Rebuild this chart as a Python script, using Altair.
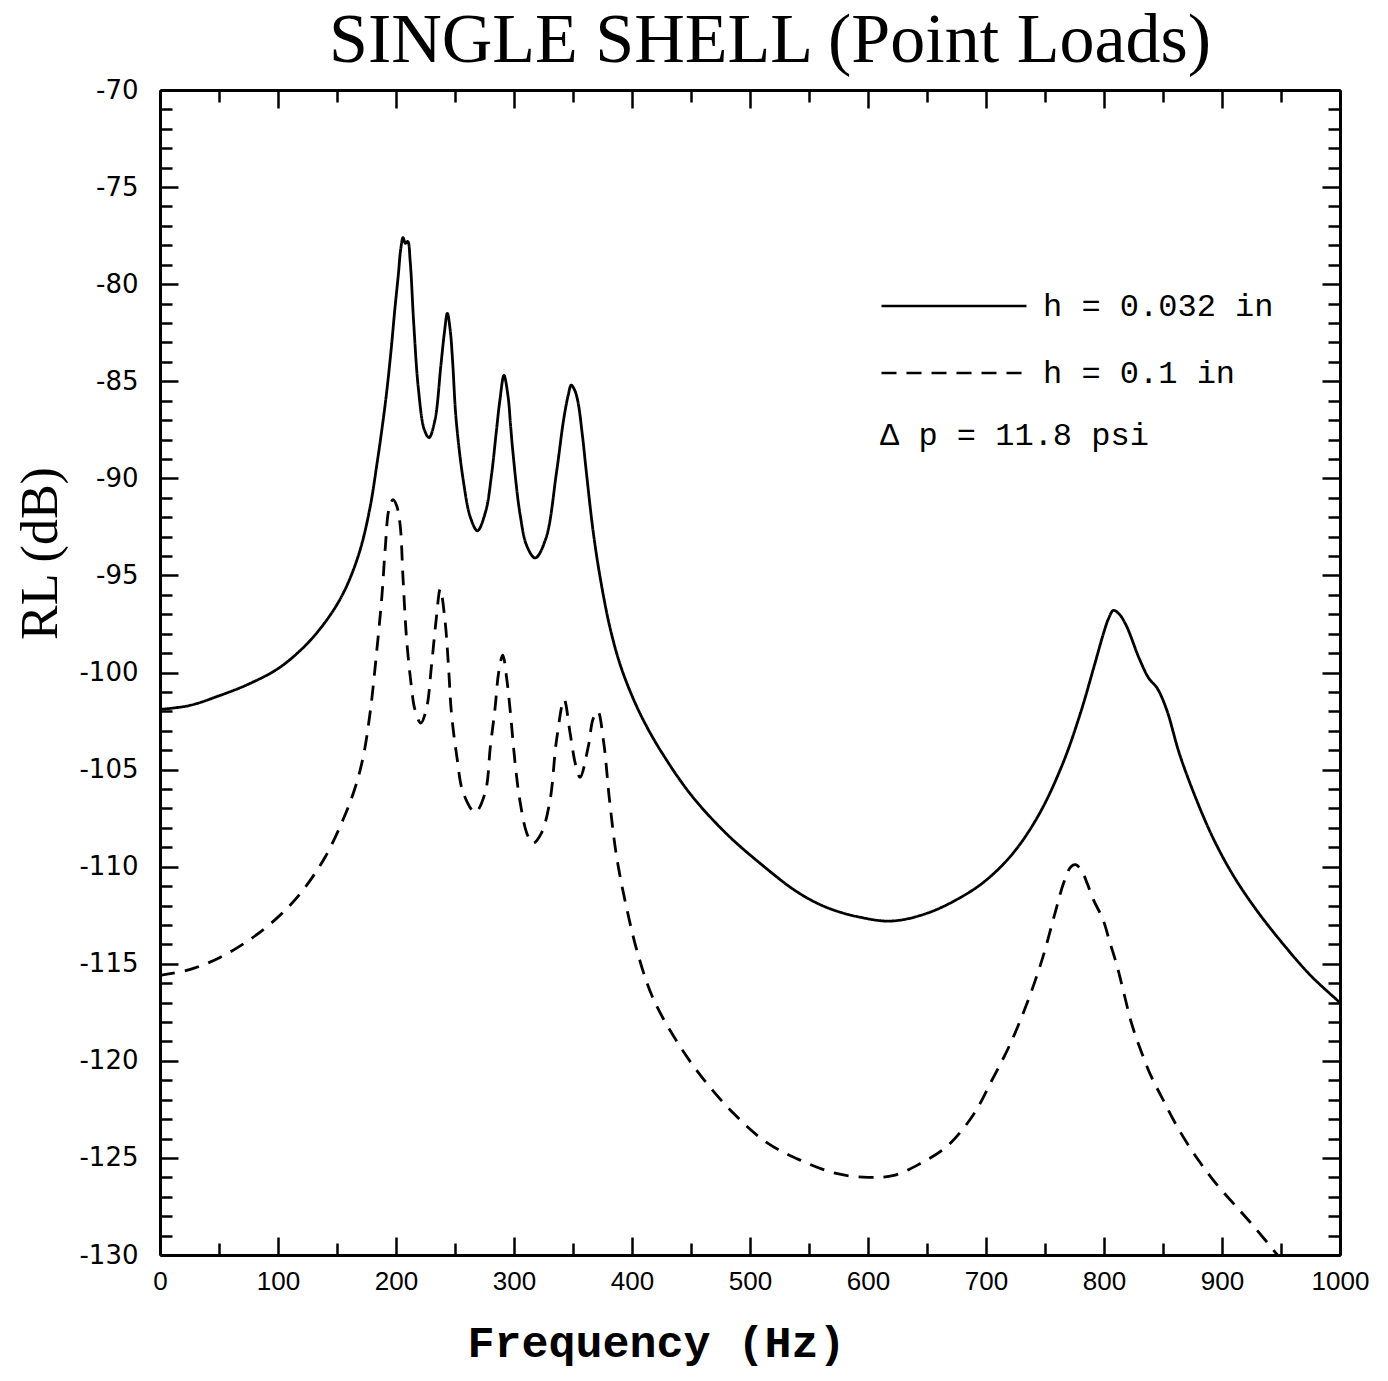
import altair as alt
import pandas as pd

# ---------------- data ----------------
solid_label = "h = 0.032 in"
dashed_label = "h = 0.1 in"

solid_freq = [0, 25, 50, 75, 100, 120, 135, 150, 160, 170, 178, 184, 188, 192, 196, 199,
              202, 204, 206, 208, 210, 212, 215, 219, 224, 228, 233, 238, 241, 243.5, 246,
              248, 251, 257, 263, 269, 276, 281, 285, 288, 291.5, 295, 297, 299, 305, 311,
              318, 327, 336, 342, 346, 348.5, 351, 354, 358, 361, 367, 373, 381, 390, 400,
              410, 425, 450, 480, 510, 540, 565, 593, 620, 650, 678, 700, 723, 745, 765, 780,
              792, 800, 804, 808, 813, 819, 830, 838, 845, 853, 864, 878, 893, 910, 930, 952,
              975, 1000]
solid_rl = [-101.9, -101.7, -101.2, -100.6, -99.8, -98.8, -97.8, -96.5, -95.3, -93.6, -91.5,
            -89.2, -87.5, -85.6, -83.3, -81.3, -79.5, -78.2, -77.6, -77.9, -77.8, -78.8, -82.0,
            -85.4, -87.5, -87.9, -87.0, -84.2, -82.5, -81.5, -82.4, -84.0, -87.0, -90.1, -92.0,
            -92.7, -91.7, -89.8, -87.6, -86.0, -84.7, -85.8, -87.2, -88.6, -91.8, -93.5, -94.1,
            -93.1, -89.7, -87.0, -85.7, -85.2, -85.4, -86.0, -87.8, -89.5, -92.7, -95.1, -97.6,
            -99.6, -101.2, -102.5, -104.1, -106.3, -108.3, -109.9, -111.3, -112.1, -112.6,
            -112.8, -112.4, -111.6, -110.7, -109.3, -107.3, -104.7, -102.1, -99.6, -97.9,
            -97.2, -96.8, -97.0, -97.6, -99.3, -100.3, -100.8, -101.9, -104.2, -106.5, -108.6,
            -110.5, -112.3, -114.0, -115.6, -117.0]

dashed_freq = [0, 25, 50, 75, 100, 120, 140, 155, 165, 172, 178, 184, 188, 191, 194, 197.5,
               200.5, 203.5, 206, 209, 213, 216, 221, 226, 230, 234, 237.5, 241.5, 244.5, 247,
               251.5, 257, 267, 275.5, 280, 284, 287, 290.5, 294, 297, 301, 305, 311, 316, 323,
               330.5, 336, 342.5, 347.5, 352, 356, 363, 367, 371, 376, 381, 387, 395, 405, 418,
               438, 460, 486, 514, 542, 573, 600, 622, 644, 667, 689, 705, 720, 735, 748, 758,
               766, 772, 776, 781, 786, 791, 799, 805, 811, 816, 823.5, 832, 840, 850, 864, 881,
               896, 912, 928, 947]
dashed_rl = [-115.6, -115.3, -114.7, -113.8, -112.6, -111.3, -109.5, -107.6, -106.0, -104.4,
             -102.1, -98.7, -96.1, -93.5, -91.6, -91.1, -91.4, -92.4, -95.2, -98.3, -100.7,
             -101.9, -102.6, -101.8, -99.7, -97.3, -95.7, -97.3, -99.7, -102.1, -104.3, -106.2,
             -107.2, -106.2, -103.8, -101.8, -100.0, -99.1, -100.4, -102.1, -104.7, -106.6,
             -108.3, -108.8, -108.3, -106.6, -103.5, -101.4, -103.1, -104.7, -105.4, -103.8,
             -102.4, -102.0, -103.6, -106.6, -109.5, -112.0, -114.5, -116.8, -119.0, -120.9,
             -122.7, -124.2, -125.1, -125.8, -126.0, -125.9, -125.3, -124.4, -122.8, -121.0,
             -119.2, -117.0, -114.7, -112.5, -110.8, -110.0, -109.9, -110.2, -110.9, -111.7,
             -112.7, -113.9, -115.1, -116.3, -118.1, -119.6, -120.8, -122.0, -123.6, -125.2,
             -126.4, -127.5, -128.6, -130.0]

x_major = list(range(0, 1001, 100))
x_minor = list(range(50, 1000, 100))
y_major = list(range(-130, -69, 5))
y_minor = [v for v in range(-130, -69) if v % 5 != 0]

title_text = "SINGLE SHELL (Point Loads)"
x_title = "Frequency (Hz)"
y_title = "RL (dB)"
note_text = "\u0394 p = 11.8 psi"

# ---------------- build ----------------
W, H = 1180, 1165

df = pd.concat([
    pd.DataFrame({"f": solid_freq, "rl": solid_rl, "series": solid_label, "order": range(len(solid_freq))}),
    pd.DataFrame({"f": dashed_freq, "rl": dashed_rl, "series": dashed_label, "order": range(len(dashed_freq))}),
])

xs = alt.Scale(domain=[0, 1000], nice=False, zero=False)
ys = alt.Scale(domain=[-130, -70], nice=False, zero=False)

TICKW = 2.5
DOMW = 3

lbl_expr_y = "datum.value < 0 ? '-' + format(-datum.value, 'd') : format(datum.value, 'd')"

# legend sample line: a long horizontal path drawn with a small symbol size
SYM_SIZE = 841          # sqrt = 29 px unit box
SYM_PATH = "M-1,0H9"    # 10 units * 14.5 px = 145 px long line

main = alt.Chart(df).mark_line(color="black", strokeWidth=2.8, clip=True, interpolate="catmull-rom").encode(
    x=alt.X("f:Q", scale=xs, axis=alt.Axis(
        orient="bottom", values=x_major, tickSize=0, grid=False, format="d",
        domain=True, domainColor="black", domainWidth=DOMW,
        labelFont="Liberation Sans", labelFontSize=26,
        labelColor="black", labelPadding=13, labelFlush=False,
        title=x_title, titleFont="Liberation Mono", titleFontSize=45, titleFontWeight="bold",
        titleColor="black", titleX=496, titleY=101, titleAnchor="middle",
        titleAlign="center", titleBaseline="alphabetic")),
    y=alt.Y("rl:Q", scale=ys, axis=alt.Axis(
        orient="left", values=y_major, tickSize=0, grid=False,
        domain=True, domainColor="black", domainWidth=DOMW,
        labelFont="DejaVu Sans", labelFontSize=26, labelColor="black", labelPadding=22,
        labelExpr=lbl_expr_y,
        title=y_title, titleFont="Liberation Serif", titleFontSize=52, titleFontWeight="normal",
        titleColor="black", titleAngle=270, titleX=-120, titleY=463,
        titleAlign="center", titleBaseline="middle")),
    strokeDash=alt.StrokeDash("series:N",
        scale=alt.Scale(domain=[solid_label, dashed_label], range=[[1, 0], [15, 10]]),
        legend=alt.Legend(orient="none", legendX=720, legendY=200, padding=0,
                          title=note_text, titleOrient="bottom", titleAnchor="start",
                          titleFont="Liberation Mono", titleFontSize=32, titleFontWeight="normal",
                          titleColor="black", titlePadding=31, titleLimit=500,
                          labelFont="Liberation Mono", labelFontSize=32, labelColor="black",
                          labelOffset=131, rowPadding=35, labelLimit=500,
                          symbolType=SYM_PATH, symbolSize=SYM_SIZE, symbolStrokeWidth=2.5,
                          symbolStrokeColor="black", symbolFillColor="transparent")),
    detail="series:N",
    order="order:Q",
)


def tick_layer(xvals, xorient, xlen, xdomain, yvals, yorient, ylen, ydomain):
    return alt.Chart(df).mark_line(opacity=0).encode(
        x=alt.X("f:Q", scale=xs, axis=alt.Axis(
            orient=xorient, offset=-H, values=xvals, tickSize=xlen, tickWidth=TICKW,
            tickColor="black", labels=False, grid=False, title=None,
            domain=xdomain, domainColor="black", domainWidth=DOMW)),
        y=alt.Y("rl:Q", scale=ys, axis=alt.Axis(
            orient=yorient, offset=-W, values=yvals, tickSize=ylen, tickWidth=TICKW,
            tickColor="black", labels=False, grid=False, title=None,
            domain=ydomain, domainColor="black", domainWidth=DOMW)),
        detail="series:N",
    )


t1 = tick_layer(x_major, "top", 18, False, y_major, "right", 18, False)
t2 = tick_layer(x_minor, "top", 12, False, y_minor, "right", 12, False)
t3 = tick_layer(x_major, "bottom", 18, True, y_major, "left", 18, True)
t4 = tick_layer(x_minor, "bottom", 12, False, y_minor, "left", 12, False)

chart = alt.layer(main, t1, t2, t3, t4).resolve_axis(
    x="independent", y="independent"
).properties(
    width=W, height=H,
    autosize=alt.AutoSizeParams(type="none"),
    padding={"left": 152, "top": 82, "right": 40, "bottom": 114},
    title=alt.TitleParams(title_text, font="Liberation Serif", fontSize=70,
                          fontWeight="normal", color="black", anchor="middle",
                          dx=20, dy=10, offset=10),
).configure_view(stroke=None).configure(background="white")

chart.save("out.html", embed_options={"renderer": "svg", "actions": False})
